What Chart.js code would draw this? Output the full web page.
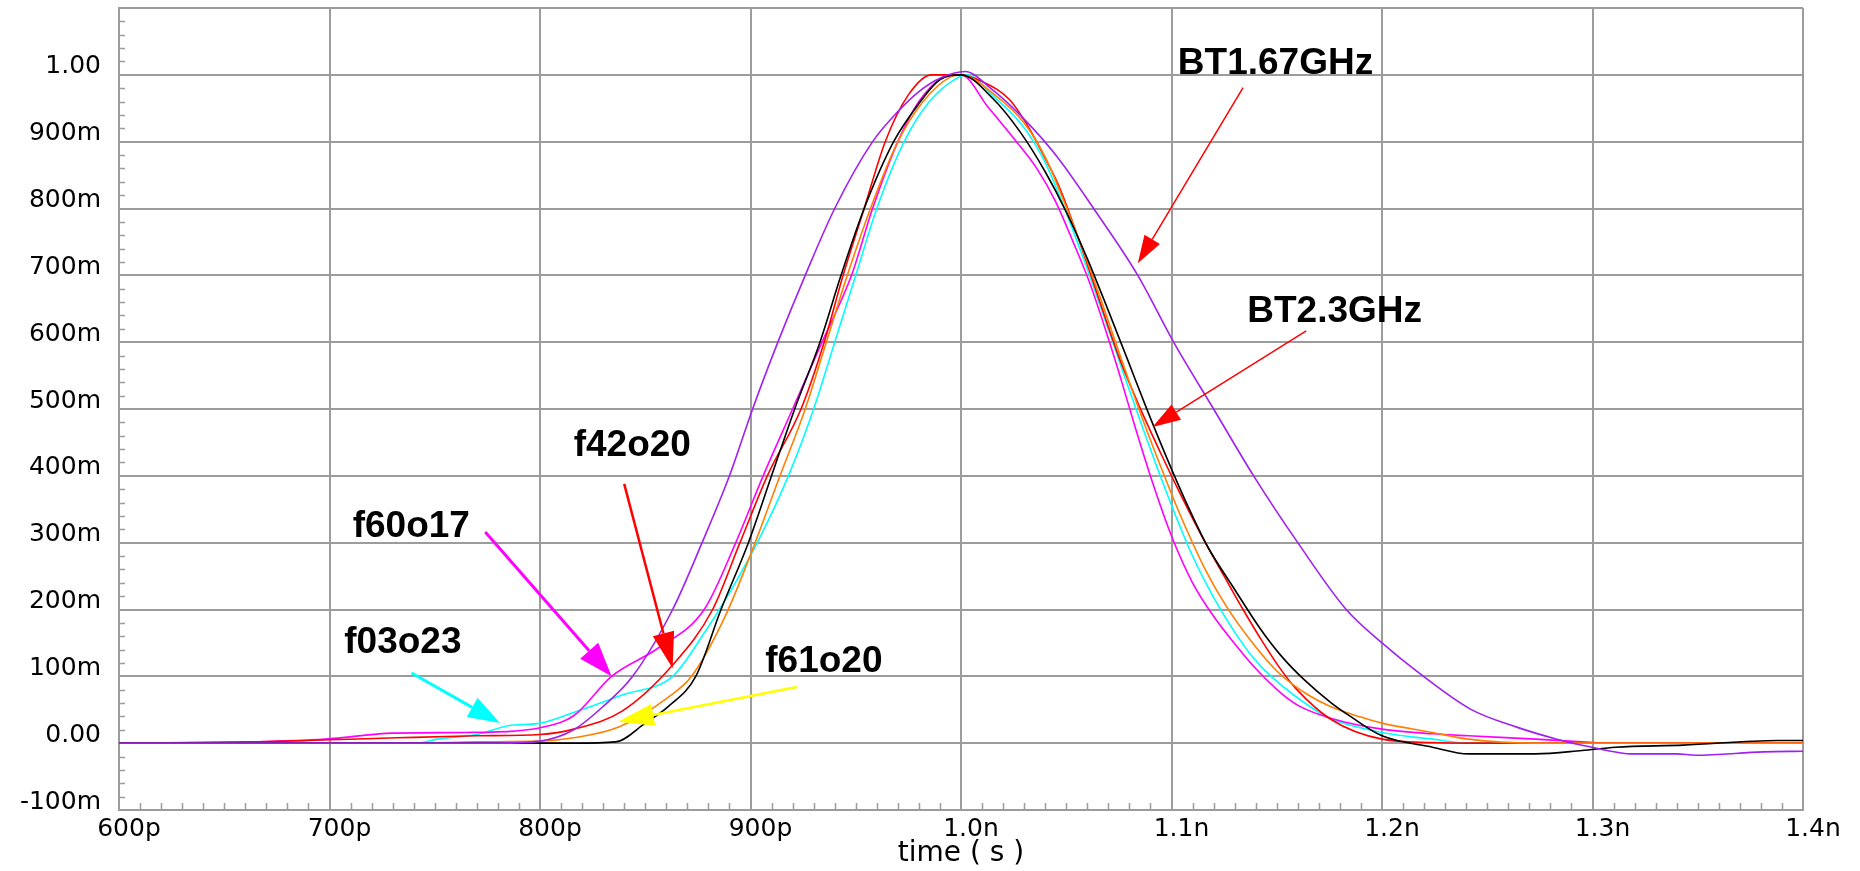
<!DOCTYPE html>
<html>
<head>
<meta charset="utf-8">
<script src="https://cdn.jsdelivr.net/npm/chart.js@4.4.0/dist/chart.umd.min.js"></script>
<style>
html, body { margin: 0; padding: 0; background: #fff; overflow: hidden; }
#myChart { display: block; }
</style>
</head>
<body>
<canvas id="myChart" width="1860" height="871"></canvas>
<script>
/* ---- datos (tiempo en ps, tension en V) ---- */
const xTicks = [600, 700, 800, 900, 1000, 1100, 1200, 1300, 1400];
const xTickLabels = ["600p", "700p", "800p", "900p", "1.0n", "1.1n", "1.2n", "1.3n", "1.4n"];
const yTicks = [-0.1, 0, 0.1, 0.2, 0.3, 0.4, 0.5, 0.6, 0.7, 0.8, 0.9, 1.0, 1.1];
const yTickLabels = ["-100m", "0.00", "100m", "200m", "300m", "400m", "500m", "600m", "700m", "800m", "900m", "1.00", ""];

const purpleTime = [600, 780, 800, 816, 830, 844, 863, 877, 890, 901, 913, 926, 940, 958, 970, 980, 990, 1002, 1014, 1028, 1045, 1063, 1084, 1101, 1120, 1139, 1160, 1183, 1200, 1218, 1242, 1264, 1283, 1295, 1307, 1318, 1340, 1349, 1381, 1400];
const purpleVal = [0, 0, 0.003, 0.02, 0.055, 0.1, 0.2, 0.3, 0.4, 0.5, 0.6, 0.7, 0.8, 0.9, 0.945, 0.975, 0.995, 1.005, 0.98, 0.94, 0.88, 0.8, 0.7, 0.6, 0.5, 0.4, 0.3, 0.2, 0.15, 0.104, 0.051, 0.024, 0.006, -0.003, -0.011, -0.016, -0.016, -0.018, -0.013, -0.012];

const blackTime = [600, 816, 836, 850, 861, 874, 886, 899, 910, 921, 933, 943, 954, 968, 980, 990, 1000, 1015, 1028, 1040, 1050, 1060, 1069, 1079, 1088, 1098, 1107, 1117, 1130, 1142, 1152, 1163, 1176, 1185, 1200, 1224, 1241, 1273, 1295, 1311, 1343, 1388, 1400];
const blackVal = [0, 0, 0.002, 0.03, 0.055, 0.1, 0.2, 0.3, 0.4, 0.5, 0.6, 0.7, 0.8, 0.9, 0.957, 0.993, 1.0, 0.965, 0.915, 0.855, 0.795, 0.725, 0.655, 0.575, 0.502, 0.425, 0.36, 0.295, 0.23, 0.172, 0.131, 0.095, 0.06, 0.04, 0.011, -0.006, -0.016, -0.016, -0.011, -0.006, -0.003, 0.004, 0.004];

const orangeTime = [600, 740, 770, 800, 816, 838, 861, 872, 888, 901, 914, 926, 936, 946, 957, 970, 982, 995, 1000, 1016, 1030, 1040, 1048, 1056, 1064, 1072, 1080, 1088, 1096, 1103, 1116, 1126, 1139, 1151, 1165, 1176, 1190, 1200, 1224, 1241, 1273, 1400];
const orangeVal = [0, 0, 0.002, 0.003, 0.008, 0.025, 0.069, 0.1, 0.19, 0.29, 0.4, 0.5, 0.6, 0.7, 0.8, 0.9, 0.96, 0.997, 1.0, 0.97, 0.928, 0.877, 0.818, 0.754, 0.686, 0.613, 0.54, 0.47, 0.405, 0.35, 0.26, 0.205, 0.148, 0.105, 0.072, 0.054, 0.039, 0.03, 0.016, 0.006, 0, 0];

const redTime = [600, 666, 700, 732, 770, 800, 816, 839, 863, 882, 895, 908, 924, 935, 944, 954, 964, 975, 986, 999, 1010, 1023, 1032, 1040, 1047, 1058, 1066, 1075, 1085, 1095, 1104, 1114, 1125, 1134, 1142, 1152, 1159, 1176, 1200, 1224, 1241, 1400];
const redVal = [0, 0.002, 0.005, 0.008, 0.011, 0.013, 0.021, 0.048, 0.117, 0.2, 0.3, 0.4, 0.5, 0.6, 0.7, 0.8, 0.9, 0.97, 1.0, 1.0, 0.99, 0.963, 0.922, 0.875, 0.83, 0.735, 0.66, 0.578, 0.502, 0.433, 0.374, 0.312, 0.25, 0.2, 0.158, 0.11, 0.082, 0.035, 0.006, 0.001, 0, 0];

const magentaTime = [600, 666, 698, 730, 764, 788, 800, 816, 834, 856, 878, 893, 906, 920, 934, 948, 958, 970, 980, 991, 1000, 1013, 1025, 1036, 1045, 1053, 1061, 1068, 1075, 1083, 1091, 1100, 1110, 1120, 1131, 1139, 1152, 1161, 1176, 1200, 1224, 1241, 1273, 1295, 1310, 1400];
const magentaVal = [0, 0.002, 0.006, 0.015, 0.016, 0.018, 0.023, 0.041, 0.1, 0.142, 0.2, 0.3, 0.4, 0.5, 0.6, 0.7, 0.8, 0.9, 0.96, 0.995, 1.0, 0.951, 0.905, 0.86, 0.81, 0.752, 0.69, 0.625, 0.555, 0.47, 0.39, 0.31, 0.24, 0.19, 0.145, 0.115, 0.075, 0.055, 0.037, 0.021, 0.014, 0.011, 0.006, 0.002, 0, 0];

const cyanTime = [600, 741, 751, 770, 785, 800, 816, 839, 863, 877, 890, 904, 918, 930, 940, 950, 960, 973, 985, 998, 1003, 1015, 1029, 1039, 1047, 1055, 1063, 1071, 1079, 1087, 1095, 1102, 1110, 1120, 1129, 1139, 1148, 1168, 1176, 1200, 1224, 1241, 1400];
const cyanVal = [0, 0, 0.006, 0.013, 0.026, 0.03, 0.046, 0.072, 0.1, 0.16, 0.225, 0.305, 0.4, 0.5, 0.6, 0.7, 0.8, 0.9, 0.96, 0.995, 1.0, 0.969, 0.925, 0.875, 0.818, 0.752, 0.683, 0.61, 0.537, 0.466, 0.397, 0.34, 0.28, 0.218, 0.171, 0.127, 0.098, 0.05, 0.036, 0.016, 0.006, 0, 0];

/* etiquetas con flecha: posicion en unidades de datos */
const notes = [
	{ text: "BT1.67GHz", at: [1103, 1.001], from: [1134, 0.981], to: [1084, 0.718], color: "#ff0000", width: 1.5, head: 28, half: 9 },
	{ text: "BT2.3GHz", at: [1136, 0.630], from: [1164, 0.617], to: [1091, 0.473], color: "#ff0000", width: 1.5, head: 28, half: 9 },
	{ text: "f42o20", at: [816, 0.430], from: [840, 0.388], to: [863, 0.112], color: "#ff0000", width: 2.5, head: 36, half: 11 },
	{ text: "f60o17", at: [711, 0.308], from: [774, 0.316], to: [834, 0.100], color: "#ff00ff", width: 3, head: 34, half: 12 },
	{ text: "f03o23", at: [707, 0.135], from: [739, 0.105], to: [781, 0.030], color: "#00ffff", width: 3, head: 32, half: 11 },
	{ text: "f61o20", at: [907, 0.107], from: [922, 0.084], to: [837, 0.032], color: "#ffff00", width: 2.5, head: 36, half: 11 }
];

function pts(t, v) {
	return t.map((x, i) => ({ x: x, y: v[i] }));
}

function serie(label, t, v, color) {
	return {
		label: label,
		data: pts(t, v),
		borderColor: color,
		backgroundColor: color,
		borderWidth: 1.6,
		pointRadius: 0,
		cubicInterpolationMode: "monotone",
		fill: false,
	};
}

const gridColor = "#9c9c9c";

// marcas menores en los ejes (hacia adentro)
const minorTicks = {
	id: "minorTicks",
	afterDraw(chart) {
		const c = chart.ctx;
		const xs = chart.scales.x, ys = chart.scales.y;
		const a = chart.chartArea;
		c.save();
		c.strokeStyle = gridColor;
		c.lineWidth = 1.5;
		c.beginPath();
		for (let i = 0; i <= 60; i++) {
			if (i % 5 === 0) continue;
			const py = Math.round(ys.getPixelForValue(-0.1 + i * 0.02)) + 0.5;
			c.moveTo(a.left, py);
			c.lineTo(a.left + 6, py);
		}
		for (let i = 0; i <= 80; i++) {
			if (i % 10 === 0) continue;
			const px = Math.round(xs.getPixelForValue(600 + i * 10)) + 0.5;
			c.moveTo(px, a.bottom);
			c.lineTo(px, a.bottom - 7);
		}
		c.stroke();
		c.restore();
	}
};

// textos y flechas
const arrowNotes = {
	id: "arrowNotes",
	afterDatasetsDraw(chart) {
		const c = chart.ctx;
		const xs = chart.scales.x, ys = chart.scales.y;
		c.save();
		notes.forEach(n => {
			const x0 = xs.getPixelForValue(n.from[0]), y0 = ys.getPixelForValue(n.from[1]);
			const x1 = xs.getPixelForValue(n.to[0]), y1 = ys.getPixelForValue(n.to[1]);
			const ang = Math.atan2(y1 - y0, x1 - x0);
			const bx = x1 - n.head * Math.cos(ang), by = y1 - n.head * Math.sin(ang);
			c.strokeStyle = n.color;
			c.fillStyle = n.color;
			c.lineWidth = n.width;
			c.beginPath();
			c.moveTo(x0, y0);
			c.lineTo(bx, by);
			c.stroke();
			c.beginPath();
			c.moveTo(x1, y1);
			c.lineTo(bx + n.half * Math.sin(ang), by - n.half * Math.cos(ang));
			c.lineTo(bx - n.half * Math.sin(ang), by + n.half * Math.cos(ang));
			c.closePath();
			c.fill();

			c.fillStyle = "#000";
			c.font = "bold 37px 'Liberation Sans', Arial, sans-serif";
			c.textAlign = "left";
			c.textBaseline = "alphabetic";
			c.fillText(n.text, xs.getPixelForValue(n.at[0]), ys.getPixelForValue(n.at[1]));
		});
		c.restore();
	}
};

const ctx = document.getElementById("myChart").getContext("2d");

let myChart = new Chart(ctx, {
	type: "line",
	data: {
		datasets: [
			serie("BT1.67GHz", purpleTime, purpleVal, "#a020f0"),
			serie("BT2.3GHz", blackTime, blackVal, "#000000"),
			serie("f61o20", orangeTime, orangeVal, "#ff8000"),
			serie("f42o20", redTime, redVal, "#ff0000"),
			serie("f60o17", magentaTime, magentaVal, "#ff00ff"),
			serie("f03o23", cyanTime, cyanVal, "#00ffff"),
		],
	},
	options: {
		responsive: false,
		animation: false,
		layout: { padding: { top: 8, right: 57, left: 0, bottom: 0 } },
		plugins: {
			legend: { display: false },
			tooltip: { enabled: false },
		},
		scales: {
			x: {
				type: "linear",
				min: 600,
				max: 1400,
				afterBuildTicks: s => { s.ticks = xTicks.map(v => ({ value: v })); },
				afterFit: s => { s.height = 61; s.paddingLeft = 0; s.paddingRight = 0; },
				grid: { color: gridColor, lineWidth: 2, drawTicks: false },
				border: { color: gridColor, width: 2 },
				ticks: {
					color: "#000",
					font: { family: "'DejaVu Sans'", size: 25 },
					padding: 4,
					labelOffset: 10,
					maxRotation: 0,
					autoSkip: false,
					callback: v => xTickLabels[xTicks.indexOf(v)],
				},
				title: {
					display: true,
					text: "time ( s )",
					color: "#000",
					font: { family: "'DejaVu Sans'", size: 28 },
					padding: { top: 0, bottom: 0 },
				},
			},
			y: {
				type: "linear",
				min: -0.1,
				max: 1.1,
				afterBuildTicks: s => { s.ticks = yTicks.map(v => ({ value: v })); },
				afterFit: s => { s.width = 119; s.paddingTop = 0; s.paddingBottom = 0; },
				grid: { color: gridColor, lineWidth: 2, drawTicks: false },
				border: { color: gridColor, width: 2 },
				ticks: {
					color: "#000",
					font: { family: "'DejaVu Sans'", size: 25 },
					padding: 18,
					labelOffset: -8,
					autoSkip: false,
					callback: v => {
						const i = yTicks.findIndex(t => Math.abs(t - v) < 1e-6);
						return i < 0 ? "" : yTickLabels[i];
					},
				},
			},
		},
	},
	plugins: [minorTicks, arrowNotes],
});
</script>
</body>
</html>
